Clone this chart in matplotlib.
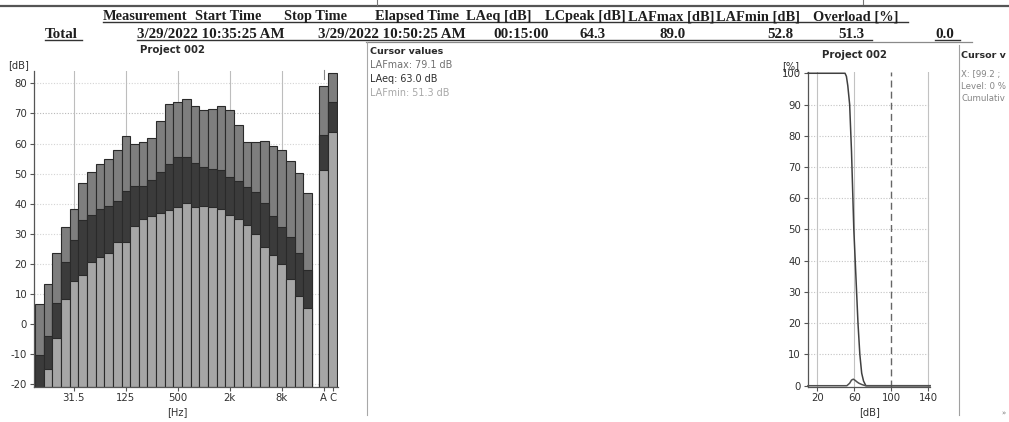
import numpy as np
import matplotlib
matplotlib.use("Agg")
import matplotlib.pyplot as plt
from matplotlib.lines import Line2D

plt.rcParams["axes.unicode_minus"] = False

W, H = 1009, 422

# ---------------- data ----------------
bands = ["12.5", "16", "20", "25", "31.5", "40", "50", "63", "80", "100", "125",
         "160", "200", "250", "315", "400", "500", "630", "800", "1k", "1.25k",
         "1.6k", "2k", "2.5k", "3.15k", "4k", "5k", "6.3k", "8k", "10k", "12.5k", "16k"]
laf_max = [6.7, 13.3, 23.6, 32.2, 38.3, 46.9, 50.5, 53.2, 54.9, 58.0, 62.4, 60.0,
           60.4, 61.8, 67.4, 73.0, 73.9, 74.9, 72.5, 71.3, 71.4, 72.4, 71.1, 66.1,
           60.6, 60.6, 60.8, 59.1, 58.0, 54.3, 50.1, 43.6]
laeq = [-10.2, -3.8, 7.1, 20.7, 27.8, 34.5, 36.4, 38.3, 39.2, 40.9, 44.1, 46.0,
        46.0, 48.0, 50.6, 53.3, 55.6, 55.4, 53.6, 52.3, 51.4, 51.2, 49.0, 47.6,
        45.6, 44.0, 40.3, 35.9, 32.3, 29.0, 23.6, 17.9]
laf_min = [np.nan, -15.0, -4.7, 8.4, 14.4, 16.5, 20.7, 22.3, 23.6, 27.3, 27.3, 32.5,
           34.8, 36.0, 37.0, 38.0, 38.8, 40.1, 39.0, 39.3, 38.8, 38.3, 36.4, 34.8,
           32.9, 29.9, 25.8, 23.1, 20.1, 15.1, 9.5, 5.5]
broadband = ["A", "C"]
bb_max = [79.1, 83.6]
bb_eq = [63.0, 73.9]
bb_min = [51.3, 63.7]
freq_ticks = ["31.5", "125", "500", "2k", "8k"]

cum_level = [10, 50, 51.5, 53, 55, 57, 58.5, 59.5, 61, 62.5, 64, 66, 68, 70, 72.5, 141.8]
cum_pct = [100, 100, 99, 96, 90, 75, 60, 50, 40, 30, 20, 10, 4, 1.5, 0, 0]
dist_level = [10, 52, 55, 57, 59, 61, 63, 65, 68, 71, 73, 141.8]
dist_pct = [0, 0, 0.8, 1.8, 2.1, 1.7, 1.2, 0.8, 0.4, 0.1, 0, 0]

header_cols = ["Measurement", "Start Time", "Stop Time", "Elapsed Time", "LAeq [dB]",
               "LCpeak [dB]", "LAFmax [dB]", "LAFmin [dB]", "Overload [%]"]
header_x = [103, 195, 284, 375, 466, 545, 628, 716, 813]
row_label = "Total"
row_vals = ["3/29/2022 10:35:25 AM", "3/29/2022 10:50:25 AM", "00:15:00", "64.3",
            "89.0", "52.8", "51.3", "0.0"]
row_x = [137, 318, 493, 580, 660, 767, 838, 935]

cursor_lines = ["LAFmax: 79.1 dB", "LAeq: 63.0 dB", "LAFmin: 51.3 dB"]
cursor_colors = ["#707070", "#2e2e2e", "#a8a8a8"]
right_title = "Cursor v"
right_cursor = ["X: [99.2 ;", "Level: 0 %", "Cumulativ"]

# ---------------- figure ----------------
fig = plt.figure(figsize=(W / 100, H / 100), dpi=100)
fig.patch.set_facecolor("white")


def fx(px):
    return px / W


def fy(py):
    return 1 - py / H


def hline(y, x0, x1, color="#444444", lw=1.0):
    fig.add_artist(Line2D([fx(x0), fx(x1)], [fy(y), fy(y)], color=color, lw=lw,
                          transform=fig.transFigure))


def vline(x, y0, y1, color="#888888", lw=0.8):
    fig.add_artist(Line2D([fx(x), fx(x)], [fy(y0), fy(y1)], color=color, lw=lw,
                          transform=fig.transFigure))


# top rule
hline(5.5, 0, W, color="#555555", lw=1.6)
vline(377, 0, 5, color="#777777", lw=0.8)
vline(863, 0, 4, color="#777777", lw=0.8)

serif = "Liberation Serif"
for t, x in zip(header_cols, header_x):
    fig.text(fx(x), fy(20.3), t, family=serif, weight="bold", fontsize=10.4,
             color="#1e1e1e", ha="left", va="baseline")
hline(22.3, 103, 908, color="#333333", lw=1.0)

fig.text(fx(45), fy(38.3), row_label, family=serif, weight="bold", fontsize=10.8,
         color="#1e1e1e", ha="left", va="baseline")
for t, x in zip(row_vals, row_x):
    fig.text(fx(x), fy(38.3), t, family=serif, weight="bold", fontsize=10.8,
             color="#1e1e1e", ha="left", va="baseline")
hline(40.3, 45, 82, color="#333333", lw=1.0)
hline(40.3, 137, 872, color="#333333", lw=1.0)
hline(40.3, 935, 960, color="#333333", lw=1.0)
hline(42.3, 366, 972, color="#8a8a8a", lw=0.9)

# panel separators
vline(366.5, 42, 415, color="#a8a8a8", lw=0.8)
vline(959, 45, 415, color="#a0a0a0", lw=0.8)

# ---------------- spectrum axes ----------------
y_lo, y_hi = -20.7, 84.1
ax = fig.add_axes([fx(34.1), fy(386.5), fx(337.9) - fx(34.1), fy(71) - fy(386.5)])
ax.set_xlim(-0.1, 35.0)
ax.set_ylim(y_lo, y_hi)
for s in ["top", "right"]:
    ax.spines[s].set_visible(False)
for s in ["left", "bottom"]:
    ax.spines[s].set_color("#555555")
    ax.spines[s].set_linewidth(0.9)

base = -21.0
xc = np.arange(len(bands)) + 0.5
edge = "#2a2a2a"
c_max, c_eq, c_min = "#7e7e7e", "#3b3b3b", "#a6a6a6"

# grid
for v in range(-20, 81, 10):
    ax.axhline(v, color="#b8b8b8" if v == 70 else "#d4d4d4", lw=0.8,
               ls=(0, (1, 1.5)), zorder=0)
tick_idx = [bands.index(t) + 0.5 for t in freq_ticks]
for t in tick_idx:
    ax.axvline(t, color="#bdbdbd", lw=0.8, zorder=0)

for vals, col in [(laf_max, c_max), (laeq, c_eq), (laf_min, c_min)]:
    v = np.array(vals, dtype=float)
    ax.bar(xc, v - base, bottom=base, width=1.0, color=col, edgecolor=edge,
           linewidth=0.8, zorder=2)

bb_x = np.array([33.35, 34.38])
for vals, col in [(bb_max, c_max), (bb_eq, c_eq), (bb_min, c_min)]:
    v = np.array(vals, dtype=float)
    ax.bar(bb_x, v - base, bottom=base, width=1.03, color=col, edgecolor=edge,
           linewidth=0.8, zorder=2)
# cursor marker above A
ax.plot([bb_x[0], bb_x[0]], [81.6, 84.3], color="#888888", lw=0.8, clip_on=False)

ax.set_xticks(list(tick_idx) + list(bb_x))
ax.set_xticklabels(freq_ticks + broadband)
ax.set_yticks(range(-20, 81, 10))
ax.tick_params(axis="both", labelsize=7.3, colors="#555555", labelcolor="#303030",
               length=3, width=0.8, pad=2)
fig.text(fx(177), fy(412), "[Hz]", fontsize=7.1, color="#303030", ha="center", va="center")
fig.text(fx(8), fy(65), "[dB]", fontsize=7.1, color="#303030", ha="left", va="center")
fig.text(fx(172), fy(50), "Project 002", fontsize=7.3, weight="bold", color="#2a2a2a",
         ha="center", va="center")

# ---------------- cursor text ----------------
fig.text(fx(370), fy(51), "Cursor values", fontsize=6.8, weight="bold", color="#2a2a2a",
         ha="left", va="center")
for i, (t, c) in enumerate(zip(cursor_lines, cursor_colors)):
    fig.text(fx(370), fy(65 + 14 * i), t, fontsize=6.9, color=c, ha="left", va="center")

# ---------------- cumulative distribution axes ----------------
ax2 = fig.add_axes([fx(808), fy(386.5), fx(930) - fx(808), fy(71.7) - fy(386.5)])
ax2.set_xlim(10, 141.8)
ax2.set_ylim(-0.25, 100.5)
for s in ["top", "right"]:
    ax2.spines[s].set_visible(False)
for s in ["left", "bottom"]:
    ax2.spines[s].set_color("#555555")
    ax2.spines[s].set_linewidth(0.9)
for v in range(10, 100, 10):
    ax2.axhline(v, color="#c4c4c4", lw=0.8, ls=(0, (1, 1.5)), zorder=0)
for v in [20, 60, 140]:
    ax2.axvline(v, color="#c2c2c2", lw=0.8, zorder=0)
ax2.axvline(100, color="#666666", lw=1.0, ls=(0, (5, 3)), zorder=1)
ax2.plot(cum_level, cum_pct, color="#404040", lw=1.1, zorder=3, clip_on=False)
ax2.plot(dist_level, dist_pct, color="#505050", lw=1.1, zorder=3, clip_on=False)
ax2.set_xticks([20, 60, 100, 140])
ax2.set_yticks(range(0, 101, 10))
ax2.tick_params(axis="both", labelsize=7.3, colors="#555555", labelcolor="#303030",
                length=3, width=0.8, pad=2)
fig.text(fx(870), fy(412), "[dB]", fontsize=7.1, color="#303030", ha="center", va="center")
fig.text(fx(782), fy(66), "[%]", fontsize=7.1, color="#303030", ha="left", va="center")
fig.text(fx(855), fy(55), "Project 002", fontsize=7.3, weight="bold", color="#2a2a2a",
         ha="center", va="center")

fig.text(fx(961), fy(55), right_title, fontsize=6.8, weight="bold", color="#2a2a2a",
         ha="left", va="center")
for i, t in enumerate(right_cursor):
    fig.text(fx(961), fy(75 + 11.7 * i), t, fontsize=6.2, color="#858585",
             ha="left", va="center")
fig.text(fx(1003), fy(413), "»", fontsize=5, color="#777777", ha="center", va="center")

fig.savefig("out.png", dpi=100, facecolor="white")
